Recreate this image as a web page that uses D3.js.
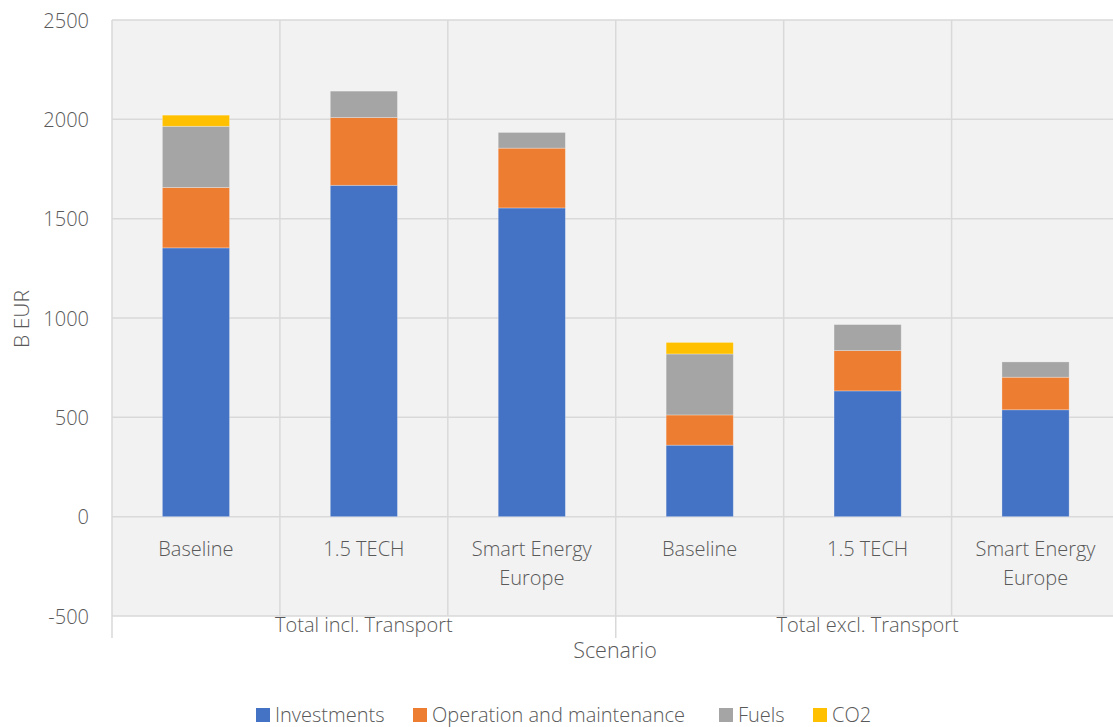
<!DOCTYPE html>
<html><head><meta charset="utf-8">
<script src="https://cdn.jsdelivr.net/npm/d3@7"></script>
<style>
body{margin:0;background:#fff;}
text{font-family:"Open Sans","Segoe UI",sans-serif;fill:#595959;font-weight:300;}
</style></head>
<body><svg id="c" width="1113" height="727"></svg>
<script>
const groups = ["Total incl. Transport", "Total excl. Transport"];
const scenarios = ["Baseline", "1.5 TECH", "Smart Energy Europe"];
const seriesNames = ["Investments", "Operation and maintenance", "Fuels", "CO2"];
const seriesColors = ["#4472c4", "#ed7d31", "#a5a5a5", "#ffc000"];
const investments = [1353, 1668, 1554, 360, 633, 538];
const operationMaintenance = [304, 341, 301, 152, 203, 164];
const fuels = [308, 133, 79, 307, 131, 77];
const co2 = [56, 0, 0, 58, 0, 0];
const yTicks = [-500, 0, 500, 1000, 1500, 2000, 2500];

const svg = d3.select("#c");
const pLeft = 112, pRight = 1119.5, pTop = 20, pBottom = 616;
const cats = [];
groups.forEach((g, gi) => scenarios.forEach((s, si) => cats.push({id: gi + "|" + si, group: g, scen: s})));
const rows = cats.map((c, i) => ({id: c.id, Investments: investments[i], "Operation and maintenance": operationMaintenance[i], Fuels: fuels[i], CO2: co2[i]}));

const x = d3.scaleBand().domain(cats.map(c => c.id)).range([pLeft, pRight]).paddingInner(0.6).paddingOuter(0.3);
const y = d3.scaleLinear().domain([-500, 2500]).range([pBottom, pTop]);
const step = x.step();

// plot background
svg.append("rect").attr("x", pLeft).attr("y", pTop).attr("width", 1113 - pLeft).attr("height", pBottom - pTop).attr("fill", "#f2f2f2");

// horizontal gridlines
svg.append("g").selectAll("line").data(yTicks).join("line")
  .attr("x1", pLeft).attr("x2", 1113).attr("y1", d => y(d)).attr("y2", d => y(d))
  .attr("stroke", "#d9d9d9").attr("stroke-width", 1.5);

// vertical category separators
const seps = d3.range(cats.length + 1).map(i => pLeft + i * step);
svg.append("g").selectAll("line").data(seps).join("line")
  .attr("x1", d => d).attr("x2", d => d)
  .attr("y1", pTop).attr("y2", (d, i) => (i % 3 === 0) ? 638 : pBottom)
  .attr("stroke", "#d9d9d9").attr("stroke-width", 1.5);

// stacked bars
const stack = d3.stack().keys(seriesNames)(rows);
const color = d3.scaleOrdinal().domain(seriesNames).range(seriesColors);
svg.append("g").selectAll("g").data(stack).join("g").attr("fill", d => color(d.key))
  .selectAll("rect").data(d => d.filter(p => p[1] - p[0] > 0)).join("rect")
  .attr("x", d => x(d.data.id)).attr("width", x.bandwidth())
  .attr("y", d => y(d[1])).attr("height", d => y(d[0]) - y(d[1]))
  .attr("stroke", "rgba(255,255,255,0.35)").attr("stroke-width", 0.8);

// y axis
const yAxis = svg.append("g").attr("transform", `translate(${pLeft - 23},0)`)
  .call(d3.axisLeft(y).tickValues(yTicks).tickSize(0).tickPadding(0).tickFormat(d => String(d)));
yAxis.select(".domain").remove();
yAxis.selectAll("text").style("font-family", '"Open Sans",sans-serif').style("font-size", "20px").style("font-weight", 300).attr("fill", "#595959").attr("dy", "0.35em");

// category labels
const xAxis = svg.append("g").attr("transform", `translate(0,${y(0)})`)
  .call(d3.axisBottom(x).tickSize(0).tickFormat(""));
xAxis.select(".domain").remove();
const catLabels = svg.append("g").selectAll("text").data(cats).join("text")
  .attr("x", d => x(d.id) + x.bandwidth() / 2).attr("y", 556)
  .attr("text-anchor", "middle").style("font-size", "20px");
catLabels.each(function(d) {
  const t = d3.select(this);
  const parts = d.scen === "Smart Energy Europe" ? ["Smart Energy", "Europe"] : [d.scen];
  parts.forEach((p, i) => t.append("tspan").attr("x", x(d.id) + x.bandwidth() / 2).attr("dy", i === 0 ? 0 : 29).text(p));
});

// group labels
svg.append("g").selectAll("text").data(groups).join("text")
  .attr("x", (g, gi) => pLeft + step * (gi * 3 + 1.5)).attr("y", 632)
  .attr("text-anchor", "middle").style("font-size", "20px").text(d => d);

// axis titles
svg.append("text").attr("x", 615).attr("y", 658).attr("text-anchor", "middle").style("font-size", "21.5px").text("Scenario");
svg.append("text").attr("transform", "translate(29,319) rotate(-90)").attr("text-anchor", "middle").style("font-size", "21px").text("B EUR");

// legend
const legendX = [256, 413, 719, 813];
const lg = svg.append("g").selectAll("g").data(seriesNames).join("g")
  .attr("transform", (d, i) => `translate(${legendX[i]},708)`);
lg.append("rect").attr("width", 14).attr("height", 14).attr("fill", d => color(d));
lg.append("text").attr("x", 19).attr("y", 14).style("font-size", "20px").text(d => d);
</script></body></html>
